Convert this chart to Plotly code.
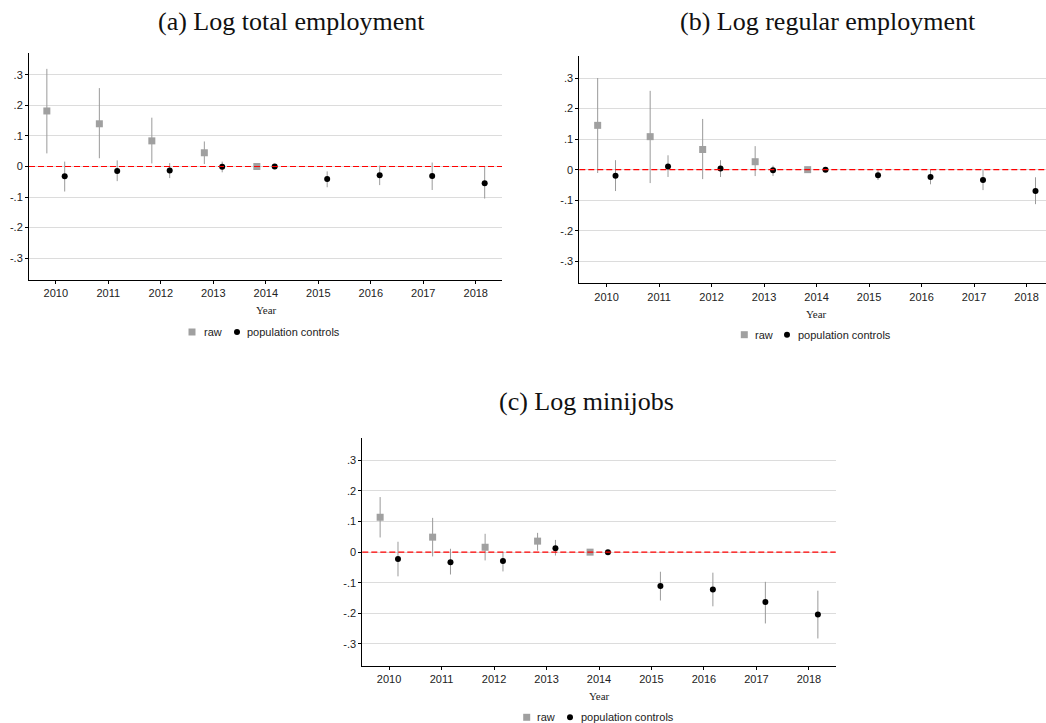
import plotly.graph_objects as go

years = [2010, 2011, 2012, 2013, 2014, 2015, 2016, 2017, 2018]
raw_years = [2010, 2011, 2012, 2013, 2014]

# Panel (a) Log total employment
a_raw = [0.182, 0.140, 0.084, 0.045, 0.0]
a_raw_hi = [0.320, 0.257, 0.160, 0.082, 0.0]
a_raw_lo = [0.043, 0.027, 0.010, 0.008, 0.0]
a_pop = [-0.032, -0.015, -0.013, -0.001, 0.0, -0.041, -0.029, -0.031, -0.055]
a_pop_hi = [0.016, 0.020, 0.011, 0.016, 0.0, -0.016, 0.003, 0.013, 0.000]
a_pop_lo = [-0.082, -0.048, -0.038, -0.019, 0.0, -0.068, -0.061, -0.077, -0.105]

# Panel (b) Log regular employment
b_raw = [0.145, 0.108, 0.066, 0.026, 0.0]
b_raw_hi = [0.300, 0.258, 0.166, 0.077, 0.0]
b_raw_lo = [-0.011, -0.044, -0.031, -0.021, 0.0]
b_pop = [-0.020, 0.010, 0.004, -0.002, 0.0, -0.018, -0.024, -0.034, -0.070]
b_pop_hi = [0.031, 0.047, 0.031, 0.013, 0.0, -0.002, 0.000, 0.000, -0.025]
b_pop_lo = [-0.070, -0.024, -0.024, -0.021, 0.0, -0.034, -0.048, -0.067, -0.113]

# Panel (c) Log minijobs
c_raw = [0.114, 0.049, 0.016, 0.036, 0.0]
c_raw_hi = [0.180, 0.112, 0.060, 0.063, 0.0]
c_raw_lo = [0.048, -0.014, -0.027, 0.005, 0.0]
c_pop = [-0.022, -0.033, -0.029, 0.013, 0.0, -0.111, -0.122, -0.163, -0.204]
c_pop_hi = [0.034, 0.011, 0.001, 0.040, 0.0, -0.064, -0.067, -0.097, -0.126]
c_pop_lo = [-0.079, -0.073, -0.063, -0.011, 0.0, -0.158, -0.177, -0.233, -0.282]

titles = ["(a) Log total employment", "(b) Log regular employment", "(c) Log minijobs"]
series_names = ["raw", "population controls"]
ytickvals = [0.3, 0.2, 0.1, 0, -0.1, -0.2, -0.3]
yticktext = [".3", ".2", ".1", "0", "-.1", "-.2", "-.3"]

W, H = 1046, 723
OFF = 0.17
GREY = "#a0a0a0"
ERR = "#9a9a9a"

def px(x):
    return x / W

def py(y):
    return 1 - y / H

# panel geometry in pixels
panels = [
    dict(l=29, r=502, t=53, b=280, xr=[2009.49, 2018.5], title=(291, 21), year=(266, 310),
         leg_y=332, leg_x=(192, 201.5, 237, 245.3)),
    dict(l=579.3, r=1046, t=56, b=283.3, xr=[2009.48, 2018.37], title=(828, 21), year=(816, 313.5),
         leg_y=334.7, leg_x=(744.3, 752.7, 787, 795.7)),
    dict(l=362.3, r=835.7, t=438.3, b=666, xr=[2009.49, 2018.51], title=(586, 401), year=(599, 696),
         leg_y=717.3, leg_x=(526.7, 535.3, 570, 578.7)),
]

data = [
    (a_raw, a_raw_hi, a_raw_lo, a_pop, a_pop_hi, a_pop_lo),
    (b_raw, b_raw_hi, b_raw_lo, b_pop, b_pop_hi, b_pop_lo),
    (c_raw, c_raw_hi, c_raw_lo, c_pop, c_pop_hi, c_pop_lo),
]

fig = go.Figure()
layout = dict(
    width=W, height=H, margin=dict(l=0, r=0, t=0, b=0),
    paper_bgcolor="white", plot_bgcolor="white", showlegend=False,
    font=dict(family="Liberation Sans, Arial, sans-serif", size=11, color="#222"),
    annotations=[], shapes=[],
)

for i, (p, d) in enumerate(zip(panels, data)):
    raw, rhi, rlo, pop, phi, plo = d
    sfx = "" if i == 0 else str(i + 1)
    xa, ya = "x" + sfx, "y" + sfx
    fig.add_trace(go.Scatter(
        x=[y - OFF for y in raw_years], y=raw, mode="markers", name=series_names[0],
        marker=dict(symbol="square", size=7, color=GREY),
        error_y=dict(type="data", symmetric=False,
                     array=[h - v for h, v in zip(rhi, raw)],
                     arrayminus=[v - l for v, l in zip(raw, rlo)],
                     color=ERR, thickness=1, width=0),
        xaxis=xa, yaxis=ya, cliponaxis=False,
    ))
    fig.add_trace(go.Scatter(
        x=[y + OFF for y in years], y=pop, mode="markers", name=series_names[1],
        marker=dict(symbol="circle", size=6, color="black"),
        error_y=dict(type="data", symmetric=False,
                     array=[h - v for h, v in zip(phi, pop)],
                     arrayminus=[v - l for v, l in zip(pop, plo)],
                     color=ERR, thickness=1, width=0),
        xaxis=xa, yaxis=ya, cliponaxis=False,
    ))
    layout["xaxis" + sfx] = dict(
        domain=[px(p["l"]), px(p["r"])], range=p["xr"], anchor=ya,
        tickvals=years, ticktext=[str(y) for y in years],
        ticks="outside", ticklen=3, tickcolor="black", showline=True,
        linecolor="black", linewidth=1, showgrid=False, zeroline=False,
        tickfont=dict(size=11, color="#222"),
    )
    layout["yaxis" + sfx] = dict(
        domain=[py(p["b"]), py(p["t"])], range=[-0.372, 0.372], anchor=xa,
        tickvals=ytickvals, ticktext=yticktext,
        ticks="outside", ticklen=3, tickcolor="black", showline=True,
        linecolor="black", linewidth=1, showgrid=True, gridcolor="#dcdcdc",
        gridwidth=1, zeroline=False, tickfont=dict(size=11, color="#222"),
    )
    layout["shapes"].append(dict(
        type="line", xref=xa + " domain", yref=ya, x0=0, x1=1, y0=0, y1=0,
        line=dict(color="red", width=1.2, dash="6px,3px"), layer="above",
    ))
    layout["annotations"].append(dict(
        text=titles[i], xref="paper", yref="paper",
        x=px(p["title"][0]), y=py(p["title"][1]), xanchor="center", yanchor="middle",
        showarrow=False, font=dict(family="Liberation Serif, serif", size=26, color="#111"),
    ))
    layout["annotations"].append(dict(
        text="Year", xref="paper", yref="paper",
        x=px(p["year"][0]), y=py(p["year"][1]), xanchor="center", yanchor="middle",
        showarrow=False, font=dict(family="Liberation Serif, serif", size=11, color="#222"),
    ))
    # custom legend (marker key + label) below each panel
    sq_x, sq_tx, ci_x, ci_tx = p["leg_x"]
    ly = p["leg_y"]
    layout["shapes"].append(dict(
        type="rect", xref="paper", yref="paper",
        x0=px(sq_x - 3.5), x1=px(sq_x + 3.5), y0=py(ly + 3.5), y1=py(ly - 3.5),
        fillcolor=GREY, line=dict(width=0),
    ))
    layout["shapes"].append(dict(
        type="circle", xref="paper", yref="paper",
        x0=px(ci_x - 3), x1=px(ci_x + 3), y0=py(ly + 3), y1=py(ly - 3),
        fillcolor="black", line=dict(width=0),
    ))
    for tx, name in ((sq_tx, series_names[0]), (ci_tx, series_names[1])):
        layout["annotations"].append(dict(
            text=name, xref="paper", yref="paper", x=px(tx), y=py(ly),
            xanchor="left", yanchor="middle", showarrow=False,
            font=dict(size=11, color="#222"),
        ))

fig.update_layout(**layout)
fig.write_html("out.html")
